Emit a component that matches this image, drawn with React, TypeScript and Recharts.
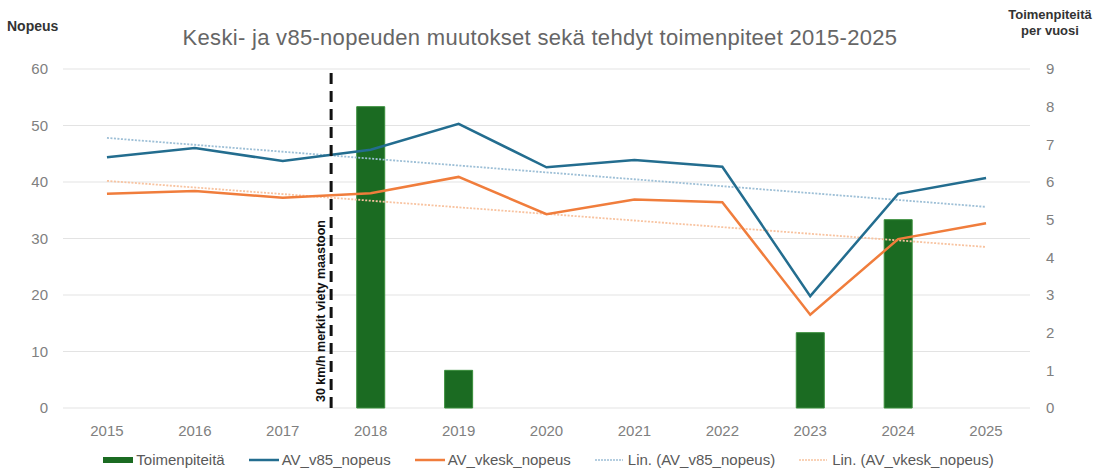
import React from 'react';
import {
    ComposedChart, Bar, Line, XAxis, YAxis, CartesianGrid, Legend, ReferenceLine,
} from 'recharts';

const years = ['2015', '2016', '2017', '2018', '2019', '2020', '2021', '2022', '2023', '2024', '2025'];
// Toimenpiteitä per vuosi (oikea akseli)
const toimenpiteet = [null, null, null, 8, 1, null, null, null, 2, 5, null];
// Nopeudet (vasen akseli)
const v85Nopeus = [44.4, 46.0, 43.7, 45.7, 50.3, 42.6, 43.9, 42.7, 19.8, 37.9, 40.7];
const vkeskNopeus = [37.9, 38.4, 37.2, 38.0, 40.9, 34.3, 36.9, 36.4, 16.5, 29.9, 32.7];
// Trendiviivojen päätepisteet luettu kuvasta
const v85Trend = [47.8, null, null, null, null, null, null, null, null, null, 35.6];
const vkeskTrend = [40.2, null, null, null, null, null, null, null, null, null, 28.5];

const leftTicks = [0, 10, 20, 30, 40, 50, 60];
const rightTicks = [0, 1, 2, 3, 4, 5, 6, 7, 8, 9];

const markerPos = 2.55; // 2017 ja 2018 välissä
const markerLabel = '30 km/h merkit viety maastoon';
const title = 'Keski- ja v85-nopeuden muutokset sekä tehdyt toimenpiteet 2015-2025';

const legendItems = [
    { name: 'Toimenpiteitä', color: '#1b6b22', kind: 'bar' },
    { name: 'AV_v85_nopeus', color: '#236d8f', kind: 'line' },
    { name: 'AV_vkesk_nopeus', color: '#f07d3c', kind: 'line' },
    { name: 'Lin. (AV_v85_nopeus)', color: '#9dbfd6', kind: 'dot' },
    { name: 'Lin. (AV_vkesk_nopeus)', color: '#f8c3a0', kind: 'dot' },
];

const data = years.map((year, i) => ({
    year,
    idx: i,
    toimenpiteet: toimenpiteet[i],
    v85: v85Nopeus[i],
    vkesk: vkeskNopeus[i],
    v85Trend: v85Trend[i],
    vkeskTrend: vkeskTrend[i],
}));

const font = "'Liberation Sans', Arial, sans-serif";
const tickStyle = { fill: '#808080', fontSize: 15, fontFamily: font };

const renderLegend = () => (
    <div style={{ display: 'flex', justifyContent: 'center', alignItems: 'center', paddingTop: 14, fontFamily: font, fontSize: 15, color: '#595959', lineHeight: 1 }}>
        {legendItems.map((item, i) => (
            <div key={item.name} style={{ display: 'flex', alignItems: 'center', marginRight: i < legendItems.length - 1 ? 24 : 0 }}>
                <svg width={30} height={10} style={{ marginRight: 3 }}>
                    {item.kind === 'bar' && <rect x={0} y={2} width={30} height={6} fill={item.color} />}
                    {item.kind === 'line' && <line x1={0} x2={30} y1={5} y2={5} stroke={item.color} strokeWidth={2.5} />}
                    {item.kind === 'dot' && <line x1={0} x2={28} y1={5} y2={5} stroke={item.color} strokeWidth={1.5} strokeDasharray="2 1" />}
                </svg>
                <span>{item.name}</span>
            </div>
        ))}
    </div>
);

const MarkerLabel = (props: any) => {
    const { viewBox } = props;
    const x = viewBox.x - 6;
    const y = viewBox.y + viewBox.height - 6;
    return (
        <text x={x} y={y} transform={`rotate(-90 ${x} ${y})`} textAnchor="start"
            fontSize={12.5} fontWeight="bold" fontFamily={font} fill="#111">
            {markerLabel}
        </text>
    );
};

export default function App() {
    return (
        <div style={{ position: 'relative', width: 1097, height: 471, background: '#fff' }}>
            <style>{'body{margin:0;}'}</style>
            <div style={{ position: 'absolute', left: 7, top: 18, fontFamily: font, fontSize: 14, fontWeight: 'bold', color: '#333' }}>Nopeus</div>
            <div style={{ position: 'absolute', left: 0, width: 1080, top: 25, textAlign: 'center', fontFamily: font, fontSize: 22, letterSpacing: 0.3, color: '#666' }}>{title}</div>
            <div style={{ position: 'absolute', left: 1003, width: 94, top: 7, textAlign: 'center', fontFamily: font, fontSize: 13, fontWeight: 'bold', color: '#333', lineHeight: '16px' }}>
                Toimenpiteitä<br />per vuosi
            </div>
            <ComposedChart width={1097} height={471} data={data} margin={{ top: 69, right: 0, bottom: 0, left: 0 }} style={{ position: 'absolute', left: 0, top: 0 }}>
                <CartesianGrid vertical={false} stroke="#e3e3e3" yAxisId="left" />
                <XAxis dataKey="year" axisLine={false} tickLine={false} height={30} tick={tickStyle} tickMargin={11} />
                <XAxis xAxisId="num" dataKey="idx" type="number" domain={[-0.5, 10.5]} allowDataOverflow hide />
                <YAxis yAxisId="left" orientation="left" width={63} domain={[0, 60]} ticks={leftTicks}
                    axisLine={false} tickLine={false} tick={tickStyle} tickMargin={9} />
                <YAxis yAxisId="right" orientation="right" width={67} domain={[0, 9]} ticks={rightTicks}
                    axisLine={false} tickLine={false} tick={tickStyle} tickMargin={10} />
                <Bar yAxisId="right" dataKey="toimenpiteet" name="Toimenpiteitä" fill="#1b6b22" stroke="#3a8f3c"
                    strokeWidth={1} barSize={28} isAnimationActive={false} />
                <Line yAxisId="left" dataKey="v85Trend" stroke="#9dbfd6" strokeWidth={1.8} strokeDasharray="2 1.5"
                    dot={false} connectNulls isAnimationActive={false} />
                <Line yAxisId="left" dataKey="vkeskTrend" stroke="#f8c3a0" strokeWidth={1.8} strokeDasharray="2 1.5"
                    dot={false} connectNulls isAnimationActive={false} />
                <Line yAxisId="left" dataKey="v85" stroke="#236d8f" strokeWidth={2.5} dot={false} isAnimationActive={false} />
                <Line yAxisId="left" dataKey="vkesk" stroke="#f07d3c" strokeWidth={2.5} dot={false} isAnimationActive={false} />
                <ReferenceLine xAxisId="num" yAxisId="left" x={markerPos} stroke="#111" strokeWidth={3}
                    strokeDasharray="11 7" label={<MarkerLabel />} />
                <Legend content={renderLegend} verticalAlign="bottom" wrapperStyle={{ height: 33 }} />
            </ComposedChart>
        </div>
    );
}
